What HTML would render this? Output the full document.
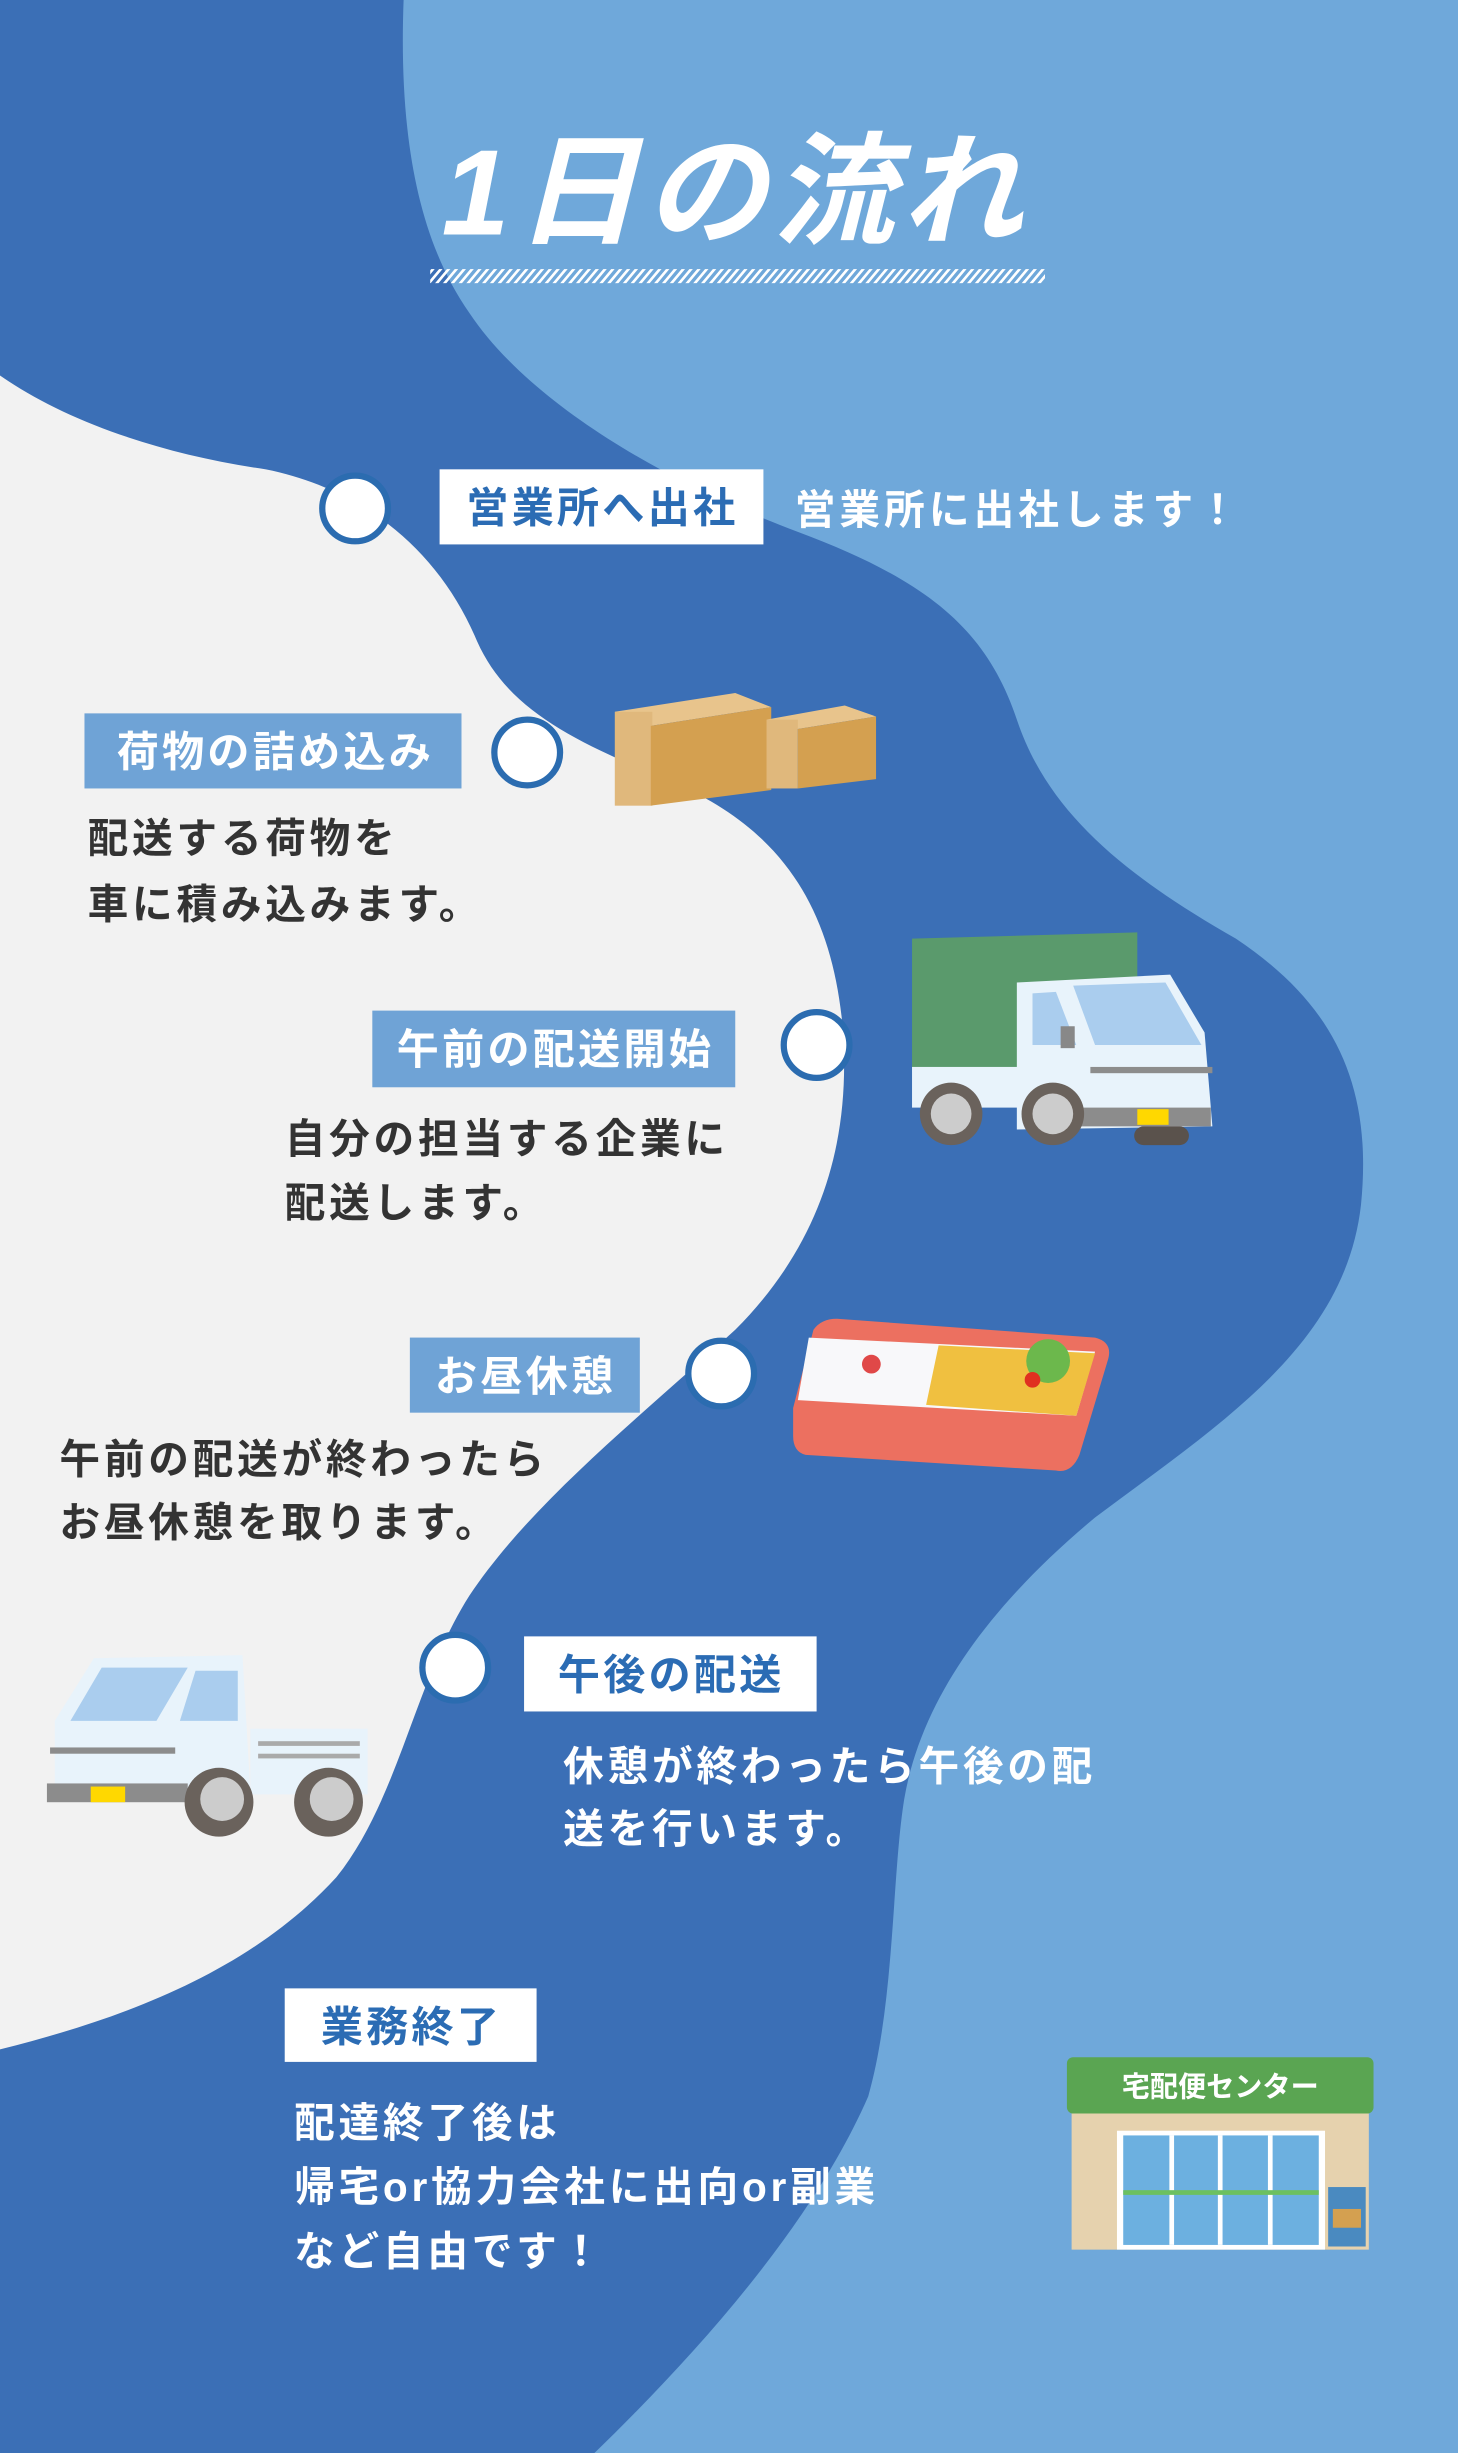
<!DOCTYPE html>
<html><head><meta charset="utf-8"><style>
html,body{margin:0;padding:0;width:1458px;height:2453px;overflow:hidden;background:#3b6fb6}
svg{display:block}
text{font-family:"Liberation Sans","Noto Sans CJK JP",sans-serif;font-weight:bold}
.d{font-size:26px;letter-spacing:2.4px}
.l{font-size:27px;letter-spacing:2px}
</style></head><body>
<svg width="1458" height="2453" viewBox="0 0 932 1568" preserveAspectRatio="none" xmlns="http://www.w3.org/2000/svg">
<defs>
<pattern id="hatch" width="5" height="10" patternUnits="userSpaceOnUse" patternTransform="skewX(-40)">
<rect width="2.2" height="10" fill="#fff"/></pattern>
</defs>
<rect width="932" height="1568" fill="#3b6fb6"/>
<path fill="#6fa8da" d="M258,0 L932,0 L932,1568 L380,1568 C450,1500 520,1420 555,1340 C572,1280 570,1200 578,1150 C590,1080 640,1020 700,970 C780,910 860,860 870,770 C878,690 850,640 790,600 C720,560 670,520 650,460 C630,400 590,370 510,340 C430,310 340,260 300,200 C265,150 255,80 258,0 Z"/>
<path fill="#f2f2f2" d="M0,240 C40,268 100,290 170,300 C230,312 280,350 305,410 C325,455 370,475 430,500 C500,530 530,580 538,650 C545,720 530,790 470,850 C410,905 340,960 300,1020 C265,1075 255,1150 215,1200 C160,1260 80,1290 0,1310 Z"/>
<text x="470" y="150" font-size="78" fill="#fff" text-anchor="middle" font-style="italic" letter-spacing="4">1日の流れ</text>
<rect x="275" y="172" width="393" height="9" fill="url(#hatch)"/>
<g fill="#fff" stroke="#2b6cb0" stroke-width="4">
<circle cx="227" cy="325" r="21"/><circle cx="337" cy="481" r="21"/><circle cx="522" cy="668" r="21"/><circle cx="461" cy="878" r="21"/><circle cx="291" cy="1066" r="21"/>
</g>
<rect x="281" y="300" width="207" height="48" fill="#fff"/>
<text x="385" y="334" class="l" fill="#2b6cb4" text-anchor="middle">営業所へ出社</text>
<text x="508" y="335" font-size="26" letter-spacing="2.6" fill="#fff">営業所に出社します！</text>
<rect x="54" y="456" width="241" height="48" fill="#6fa3d6"/>
<text x="176" y="490" class="l" fill="#fff" text-anchor="middle">荷物の詰め込み</text>
<text x="56" y="545" class="d" fill="#333">配送する荷物を</text>
<text x="56" y="587" class="d" fill="#333">車に積み込みます。</text>
<rect x="238" y="646" width="232" height="49" fill="#6fa3d6"/>
<text x="355" y="680" class="l" fill="#fff" text-anchor="middle">午前の配送開始</text>
<text x="182" y="737" class="d" fill="#333">自分の担当する企業に</text>
<text x="182" y="778" class="d" fill="#333">配送します。</text>
<rect x="262" y="855" width="147" height="48" fill="#6fa3d6"/>
<text x="336" y="889" class="l" fill="#fff" text-anchor="middle">お昼休憩</text>
<text x="38" y="942" class="d" fill="#333">午前の配送が終わったら</text>
<text x="38" y="982" class="d" fill="#333">お昼休憩を取ります。</text>
<rect x="335" y="1046" width="187" height="48" fill="#fff"/>
<text x="429" y="1080" class="l" fill="#2b6cb4" text-anchor="middle">午後の配送</text>
<text x="360" y="1138" class="d" fill="#fff">休憩が終わったら午後の配</text>
<text x="360" y="1178" class="d" fill="#fff">送を行います。</text>
<rect x="182" y="1271" width="161" height="47" fill="#fff"/>
<text x="263" y="1305" class="l" fill="#2b6cb4" text-anchor="middle">業務終了</text>
<text x="188" y="1366" class="d" fill="#fff">配達終了後は</text>
<text x="188" y="1407" class="d" fill="#fff" letter-spacing="1">帰宅or協力会社に出向or副業</text>
<text x="188" y="1448" class="d" fill="#fff">など自由です！</text>
<g>
<polygon points="393,455 470,443 493,452 416,464" fill="#e8c48c"/>
<rect x="393" y="455" width="24" height="60" fill="#e0b87c"/>
<polygon points="416,464 493,452 493,505 416,515" fill="#d4a050"/>
<polygon points="490,460 540,451 560,458 510,466" fill="#e8c48c"/>
<rect x="490" y="460" width="20" height="44" fill="#e0b87c"/>
<polygon points="510,466 560,458 560,498 510,504" fill="#d4a050"/>
</g>
<g>
<path d="M583,600 L727,596 L727,682 L583,685 Z" fill="#5a9a6c"/>
<rect x="583" y="682" width="70" height="26" fill="#e8f3fb"/>
<path d="M650,628 L748,623 L770,660 L775,720 L650,722 Z" fill="#e8f3fb"/>
<path d="M686,630 L745,628 L768,668 L700,668 Z" fill="#aacdee"/>
<path d="M660,635 L675,634 L688,668 L660,668 Z" fill="#aacdee"/>
<rect x="678" y="656" width="9" height="14" fill="#888"/>
<rect x="690" y="708" width="84" height="12" fill="#8c8c8c"/>
<rect x="727" y="709" width="20" height="10" fill="#ffd800"/>
<rect x="697" y="682" width="78" height="4" fill="#8c8c8c"/>
<circle cx="608" cy="712" r="20" fill="#6a625c"/><circle cx="608" cy="712" r="13" fill="#ccc"/>
<circle cx="673" cy="712" r="20" fill="#6a625c"/><circle cx="673" cy="712" r="13" fill="#ccc"/>
<rect x="725" y="720" width="35" height="12" rx="6" fill="#5a524c"/>
</g>
<g>
<path d="M507,900 L520,850 Q525,843 535,843 L700,855 Q712,858 708,870 L690,930 Q685,942 675,940 L515,930 Q507,928 507,918 Z" fill="#ec7060"/>
<path d="M517,855 L700,864 L688,905 L510,895 Z" fill="#f8f8fa"/>
<path d="M600,860 L700,865 L688,905 L592,898 Z" fill="#f0c040"/>
<circle cx="670" cy="870" r="14" fill="#6cb84c"/>
<circle cx="557" cy="872" r="6" fill="#e04848"/>
<circle cx="660" cy="882" r="5" fill="#e03020"/>
</g>
<g>
<path d="M35,1100 L60,1060 L155,1058 L160,1145 L35,1145 Z" fill="#e8f3fb"/>
<path d="M45,1100 L65,1066 L120,1066 L100,1100 Z" fill="#aacdee"/>
<path d="M125,1068 L152,1068 L152,1100 L115,1100 Z" fill="#aacdee"/>
<rect x="160" y="1105" width="75" height="42" fill="#e8f3fb"/>
<rect x="165" y="1113" width="65" height="3" fill="#aaa"/><rect x="165" y="1121" width="65" height="3" fill="#aaa"/>
<rect x="30" y="1140" width="90" height="12" fill="#8c8c8c"/>
<rect x="58" y="1142" width="22" height="10" fill="#ffd800"/>
<rect x="32" y="1117" width="80" height="4" fill="#8c8c8c"/>
<circle cx="140" cy="1152" r="22" fill="#6a625c"/><circle cx="142" cy="1150" r="14" fill="#ccc"/>
<circle cx="210" cy="1152" r="22" fill="#6a625c"/><circle cx="212" cy="1150" r="14" fill="#ccc"/>
</g>
<g>
<rect x="685" y="1345" width="190" height="93" fill="#e6d2ae"/>
<rect x="682" y="1315" width="196" height="36" rx="4" fill="#5aa552"/>
<text x="780" y="1340" font-size="18" fill="#fff" text-anchor="middle">宅配便センター</text>
<rect x="714" y="1362" width="133" height="76" fill="#fff"/>
<rect x="718" y="1365" width="125" height="70" fill="#6cb0e0"/>
<line x1="749" y1="1365" x2="749" y2="1435" stroke="#fff" stroke-width="3"/>
<line x1="780" y1="1365" x2="780" y2="1435" stroke="#fff" stroke-width="3"/>
<line x1="812" y1="1365" x2="812" y2="1435" stroke="#fff" stroke-width="3"/>
<rect x="718" y="1400" width="125" height="3" fill="#6cc060"/>
<rect x="849" y="1398" width="24" height="38" fill="#4a8ac0"/>
<rect x="852" y="1412" width="18" height="12" fill="#d4a050"/>
</g>
</svg>
</body></html>
